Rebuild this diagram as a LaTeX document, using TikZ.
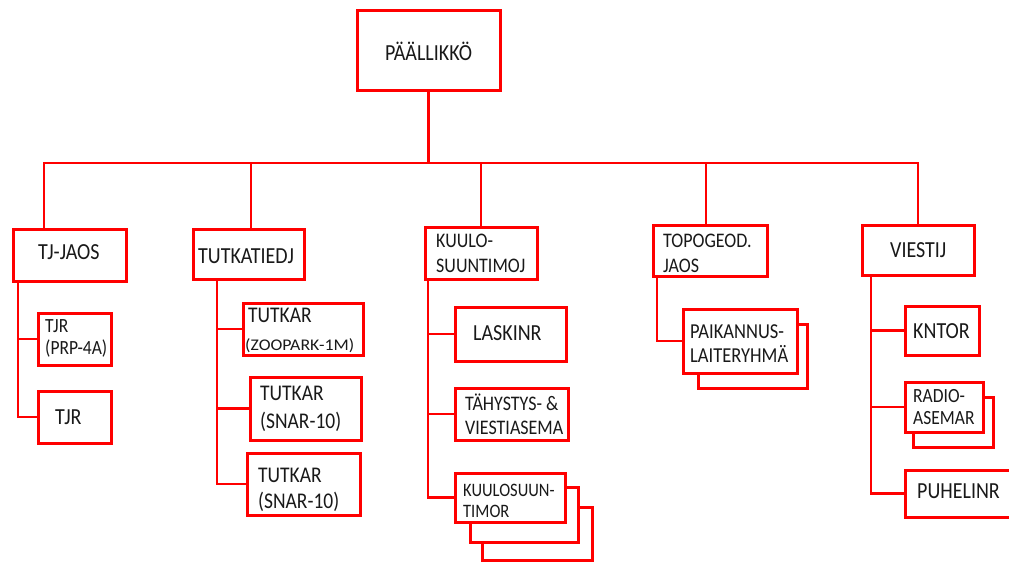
\documentclass[tikz,border=0pt]{standalone}
\usepackage{fontspec}
\setmainfont{Carlito}
% label text: size, then text, set a little taller than wide
\newcommand\tx[2]{\scalebox{1}[1.15]{\fontsize{#1}{#1}\selectfont #2}}
\begin{document}
\begin{tikzpicture}[x=1pt,y=-1pt,
  box/.style={draw=red, line width=3pt, fill=white, inner sep=0pt, outer sep=0pt, rectangle},
  link/.style={draw=red, line width=2.8pt},
  lbl/.style={inner sep=0pt, anchor=base west, text=black!90}]
\clip (0,0) rectangle (1009,562);
\fill[white] (0,0) rectangle (1009,562);

% top level
\node[box, minimum width=143pt, minimum height=80pt] (boss) at (428.5,50) {};
\node[lbl, anchor=base] (bossT) at (428.5,60) {\tx{20}{PÄÄLLIKKÖ}};

% second level
\node[box, minimum width=113pt, minimum height=52pt] (tj)  at (69.5,255) {};
\node[box, minimum width=111pt, minimum height=50pt] (tut) at (248.5,254) {};
\node[box, minimum width=112pt, minimum height=52pt] (kuu) at (481,253) {};
\node[box, minimum width=114pt, minimum height=51pt] (top) at (710,250.5) {};
\node[box, minimum width=112pt, minimum height=50pt] (vie) at (918,250) {};

% TJ-JAOS group
\node[box, minimum width=73pt, minimum height=52pt] (tja) at (74.5,339) {};
\node[box, minimum width=73pt, minimum height=52pt] (tjb) at (74.5,417) {};

% TUTKATIEDJ group
\node[box, minimum width=120pt, minimum height=52pt] (tua) at (303,329) {};
\node[box, minimum width=111pt, minimum height=63pt] (tub) at (305.5,408.5) {};
\node[box, minimum width=113pt, minimum height=62pt] (tuc) at (303.5,484) {};

% KUULOSUUNTIMOJ group
\node[box, minimum width=111pt, minimum height=54pt] (kua) at (510.5,334) {};
\node[box, minimum width=113pt, minimum height=52pt] (kub) at (511.5,414) {};
\node[box, minimum width=110pt, minimum height=53pt] (kuc2) at (537,533.5) {};
\node[box, minimum width=108pt, minimum height=55pt] (kuc1) at (524,514.5) {};
\node[box, minimum width=110pt, minimum height=49pt] (kuc) at (510,497.5) {};

% TOPOGEOD. JAOS group
\node[box, minimum width=109pt, minimum height=64pt] (topa1) at (752.5,356) {};
\node[box, minimum width=114pt, minimum height=64pt] (topa) at (740,341) {};

% VIESTIJ group
\node[box, minimum width=74pt, minimum height=49pt] (via) at (942,330.5) {};
\node[box, minimum width=80pt, minimum height=50pt] (vib1) at (953,422) {};
\node[box, minimum width=78pt, minimum height=50pt] (vib) at (944,407) {};
\node[box, minimum width=110pt, minimum height=47pt] (vic) at (960,493.5) {};

% labels
\node[lbl] (tjT) at (38,259) {\tx{20}{TJ-JAOS}};
\node[lbl] (tutT) at (198,263) {\tx{20}{TUTKATIEDJ}};
\node[lbl] (kuuT1) at (436,247) {\tx{18}{KUULO-}};
\node[lbl] (kuuT2) at (436,272) {\tx{18}{SUUNTIMOJ}};
\node[lbl] (topT1) at (663,247) {\tx{18}{TOPOGEOD.}};
\node[lbl] (topT2) at (663,272) {\tx{18}{JAOS}};
\node[lbl] (vieT) at (890,257) {\tx{20}{VIESTIJ}};

\node[lbl] (tjaT1) at (45,332) {\tx{17.5}{TJR}};
\node[lbl] (tjaT2) at (45,354) {\tx{17.5}{(PRP-4A)}};
\node[lbl] (tjbT) at (55,424) {\tx{20}{TJR}};

\node[lbl] (tuaT1) at (248,322) {\tx{19.5}{TUTKAR}};
\node[lbl] (tuaT2) at (245,350) {\scalebox{1.15}[1.05]{\fontsize{15.5}{15.5}\selectfont (ZOOPARK-1M)}};
\node[lbl] (tubT1) at (260,400) {\tx{19.5}{TUTKAR}};
\node[lbl] (tubT2) at (260,428) {\tx{19.5}{(SNAR-10)}};
\node[lbl] (tucT1) at (258,482) {\tx{19.5}{TUTKAR}};
\node[lbl] (tucT2) at (258,508) {\tx{19.5}{(SNAR-10)}};

\node[lbl] (kuaT) at (473,340) {\tx{20}{LASKINR}};
\node[lbl] (kubT1) at (465,410) {\tx{18}{TÄHYSTYS- \&}};
\node[lbl] (kubT2) at (465,434) {\tx{18}{VIESTIASEMA}};
\node[lbl] (kucT1) at (463,496) {\tx{16.5}{KUULOSUUN-}};
\node[lbl] (kucT2) at (463,517) {\tx{16.5}{TIMOR}};

\node[lbl] (topaT1) at (690,338) {\tx{18.5}{PAIKANNUS-}};
\node[lbl] (topaT2) at (690,362) {\tx{18.5}{LAITERYHMÄ}};

\node[lbl] (viaT) at (913,338) {\tx{20}{KNTOR}};
\node[lbl] (vibT1) at (913,402) {\tx{17.5}{RADIO-}};
\node[lbl] (vibT2) at (913,424) {\tx{17.5}{ASEMAR}};
\node[lbl] (vicT) at (917,498) {\tx{20}{PUHELINR}};

% drop points on the main bar and trunk positions
\coordinate (d1) at (44,163);
\coordinate (d2) at (251,163);
\coordinate (d3) at (481,163);
\coordinate (d4) at (706,163);
\coordinate (d5) at (918,163);
\coordinate (t1) at (18,0);
\coordinate (t2) at (217,0);
\coordinate (t3) at (428,0);
\coordinate (t4) at (657,0);
\coordinate (t5) at (871,0);

% connectors
\draw[link] (boss.south) -- (boss.south |- d1);
\draw[link, line cap=rect] (d1) -- (d5);
\draw[link] (d1) -- (d1 |- tj.north);
\draw[link] (d2) -- (d2 |- tut.north);
\draw[link] (d3) -- (d3 |- kuu.north);
\draw[link] (d4) -- (d4 |- top.north);
\draw[link] (d5) -- (d5 |- vie.north);

\draw[link] (t1 |- tj.south) -- (t1 |- tjb.west) -- (tjb.west);
\draw[link] (t1 |- tja.west) -- (tja.west);

\draw[link] (t2 |- tut.south) -- (t2 |- tuc.west) -- (tuc.west);
\draw[link] (t2 |- tua.west) -- (tua.west);
\draw[link] (t2 |- tub.west) -- (tub.west);

\draw[link] (t3 |- kuu.south) -- (t3 |- kuc.west) -- (kuc.west);
\draw[link] (t3 |- kua.west) -- (kua.west);
\draw[link] (t3 |- kub.west) -- (kub.west);

\draw[link] (t4 |- top.south) -- (t4 |- topa.west) -- (topa.west);

\draw[link] (t5 |- vie.south) -- (t5 |- vic.west) -- (vic.west);
\draw[link] (t5 |- via.west) -- (via.west);
\draw[link] (t5 |- vib.west) -- (vib.west);
\end{tikzpicture}
\end{document}
